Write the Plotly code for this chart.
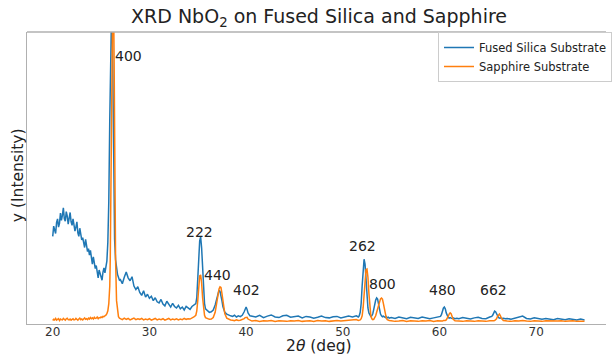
import plotly.graph_objects as go

# 2-theta grid (deg)
two_theta = [
    20.0, 20.1, 20.2, 20.3, 20.4, 20.5, 20.6, 20.7, 20.8, 20.9,
    21.0, 21.1, 21.2, 21.3, 21.4, 21.5, 21.6, 21.7, 21.8, 21.9,
    22.0, 22.1, 22.2, 22.3, 22.4, 22.5, 22.6, 22.7, 22.8, 22.9,
    23.0, 23.1, 23.2, 23.3, 23.4, 23.5, 23.6, 23.7, 23.8, 23.9,
    24.0, 24.1, 24.2, 24.3, 24.4, 24.5, 24.6, 24.7, 24.8, 24.9,
    25.0, 25.1, 25.2, 25.3, 25.4,
    25.5, 25.6, 25.7, 25.8, 25.9, 25.95, 26.0, 26.05, 26.1, 26.15,
    26.2, 26.25, 26.3, 26.35, 26.4, 26.5, 26.6, 26.7, 26.8, 26.9,
    27.0, 27.2, 27.4, 27.6, 27.8, 28.0, 28.2, 28.4, 28.6, 28.8,
    29.0, 29.2, 29.4, 29.6, 29.8, 30.0, 30.2, 30.4, 30.6, 30.8,
    31.0, 31.2, 31.4, 31.6, 31.8, 32.0, 32.2, 32.4, 32.6, 32.8,
    33.0, 33.2, 33.4, 33.6, 33.8, 34.0, 34.2, 34.4, 34.6,
    34.8, 34.9, 35.0, 35.1, 35.2, 35.3, 35.4, 35.5, 35.6, 35.7, 35.8, 36.0, 36.2, 36.4,
    36.6, 36.8, 37.0, 37.1, 37.2, 37.3, 37.4, 37.5, 37.6, 37.8, 38.0, 38.2, 38.4,
    38.6, 38.8, 39.0, 39.2, 39.4, 39.6, 39.8, 39.9, 40.0, 40.1, 40.2, 40.4,
    40.6, 41.0, 41.4, 41.8, 42.2, 42.6, 43.0, 43.4, 43.8, 44.2,
    44.6, 45.0, 45.4, 45.8, 46.2, 46.6, 47.0, 47.4, 47.8, 48.2,
    48.6, 49.0, 49.4, 49.8, 50.2, 50.6, 51.0, 51.4,
    51.6, 51.7, 51.8, 51.9, 52.0, 52.1, 52.2, 52.3, 52.4, 52.5,
    52.6, 52.7, 52.8, 52.9, 53.0, 53.1, 53.2, 53.3, 53.4, 53.5,
    53.6, 53.7, 53.8, 53.9, 54.0, 54.1, 54.2, 54.3, 54.4, 54.5,
    54.6, 54.7, 54.8,
    55.0, 55.4, 55.8, 56.2, 56.6, 57.0, 57.4, 57.8, 58.2, 58.6, 59.0, 59.4, 59.8,
    60.1, 60.2, 60.3, 60.4, 60.5, 60.6, 60.7, 60.8, 60.9, 61.0, 61.1, 61.2, 61.3, 61.4, 61.6, 61.8,
    62.0, 62.4, 62.8, 63.2, 63.6, 64.0, 64.4, 64.8, 65.2,
    65.4, 65.5, 65.6, 65.7, 65.8, 65.9, 66.0, 66.1, 66.2, 66.3, 66.4, 66.6, 66.8,
    67.0, 67.4, 67.8, 68.2, 68.6, 69.0, 69.4, 69.8, 70.2, 70.6,
    71.0, 71.4, 71.8, 72.2, 72.6, 73.0, 73.4, 73.8, 74.2, 74.6, 75.0,
]

# Fused silica substrate intensity (arb. units)
fused_silica = [
    300, 335, 322, 310, 348, 360, 332, 345, 380, 355,
    372, 398, 360, 352, 385, 370, 342, 368, 382, 350,
    338, 360, 345, 318, 332, 350, 312, 300, 328, 305,
    288, 296, 275, 262, 290, 270, 248, 258, 236, 252,
    222, 205, 230, 212, 190, 200, 176, 158, 185, 172,
    165, 150, 178, 192, 175,
    190, 215, 280, 420, 700, 900, 1050, 1100, 1100, 1080,
    950, 750, 520, 380, 290, 220, 185, 170, 160, 150,
    152, 138, 160, 178, 158, 148, 162, 130, 118, 128,
    108, 98, 114, 92, 102, 88, 95, 80, 90, 76,
    72, 84, 68, 62, 78, 66, 58, 71, 60, 55,
    64, 52, 58, 48, 60, 55, 50, 60, 64,
    70, 90, 140, 220, 285, 298, 260, 180, 110, 70, 52, 45, 40, 42,
    48, 65, 95, 110, 116, 112, 100, 80, 60, 40, 34, 30, 28,
    26, 30, 24, 28, 25, 30, 42, 52, 58, 50, 38, 28,
    26, 24, 30, 22, 27, 31, 24, 22, 28, 30,
    23, 25, 27, 21, 26, 24, 20, 23, 27, 22,
    21, 25, 26, 21, 23, 27, 24, 28,
    24, 28, 40, 70, 130, 195, 222, 205, 150, 95,
    55, 38, 30, 26, 28, 35, 50, 68, 82, 89,
    85, 68, 48, 34, 28, 25, 27, 24, 22, 25,
    21, 23, 20,
    22, 19, 24, 21, 18, 23, 22, 19, 24, 20, 18, 21, 24,
    26, 32, 44, 54, 58, 52, 38, 27, 22, 20, 22, 20, 19, 21, 18, 20,
    18, 22, 20, 17, 21, 23, 19, 18, 24,
    26, 30, 38, 44, 42, 34, 26, 22, 20, 21, 19, 20, 18,
    19, 16, 20, 24, 27, 19, 17, 21, 18, 16,
    19, 18, 15, 19, 17, 15, 18, 16, 14, 17, 14,
]

# Sapphire substrate intensity (arb. units)
sapphire = [
    12, 16, 14, 19, 13, 15, 18, 12, 17, 15,
    14, 19, 16, 13, 18, 20, 15, 14, 17, 13,
    16, 18, 14, 15, 19, 16, 13, 17, 20, 15,
    17, 14, 19, 21, 16, 18, 15, 20, 17, 22,
    18, 21, 17, 23, 19, 20, 24, 18, 22, 21,
    24, 22, 26, 25, 28,
    30, 35, 45, 70, 130, 220, 400, 650, 900, 1050,
    1100, 1100, 1080, 900, 600, 220, 80, 40, 25, 20,
    18, 15, 20, 16, 19, 14, 17, 20, 15, 18,
    16, 19, 14, 17, 15, 18, 13, 16, 19, 14,
    17, 15, 18, 13, 16, 19, 14, 17, 15, 18,
    14, 17, 15, 19, 16, 18, 17, 20, 24,
    30, 45, 80, 130, 165, 168, 140, 90, 50, 30, 22, 18, 16, 17,
    22, 40, 80, 105, 120, 127, 125, 105, 75, 35, 20, 16, 14,
    13, 11, 14, 12, 13, 15, 18, 22, 24, 23, 17, 12,
    10, 12, 9, 11, 10, 12, 9, 11, 10, 9,
    11, 10, 12, 9, 10, 11, 9, 12, 10, 11,
    9, 10, 12, 10, 11, 12, 13, 15,
    12, 12, 14, 18, 28, 55, 105, 160, 186, 188,
    160, 105, 55, 28, 18, 15, 16, 20, 28, 40,
    52, 62, 75, 86, 89, 85, 70, 48, 30, 20,
    15, 13, 12,
    11, 9, 10, 12, 9, 11, 10, 9, 11, 10, 12, 9, 11,
    10, 11, 10, 12, 11, 12, 14, 18, 26, 34, 38, 35, 26, 17, 11, 10,
    10, 9, 11, 10, 9, 11, 10, 9, 11,
    10, 11, 11, 12, 14, 18, 26, 32, 34, 28, 20, 12, 10,
    10, 9, 11, 10, 12, 10, 9, 11, 10, 9,
    11, 10, 9, 10, 11, 9, 10, 11, 9, 10, 9,
]

assert len(two_theta) == len(fused_silica) == len(sapphire), (
    len(two_theta), len(fused_silica), len(sapphire))

peak_labels = ["400", "222", "440", "402", "262", "800", "480", "662"]
label_x = [27.83, 35.20, 37.09, 40.01, 52.04, 54.13, 60.33, 65.60]
label_y = [918, 315, 168, 116, 267, 137, 116, 116]
x_ticks = [20, 30, 40, 50, 60, 70]

FONT = "DejaVu Sans"
SPINE = "#b0b0b0"

fig = go.Figure()
fig.add_trace(go.Scatter(x=two_theta, y=fused_silica, mode="lines",
                         name="Fused Silica Substrate",
                         line=dict(color="#1f77b4", width=1.5)))
fig.add_trace(go.Scatter(x=two_theta, y=sapphire, mode="lines",
                         name="Sapphire Substrate",
                         line=dict(color="#ff7f0e", width=1.5)))

annotations = []
for t, lx, ly in zip(peak_labels, label_x, label_y):
    annotations.append(dict(x=lx, y=ly, xref="x", yref="y", text=t,
                            showarrow=False, xanchor="center", yanchor="middle",
                            font=dict(family=FONT, size=14, color="#222")))
annotations.append(dict(x=0.504, y=1.051, xref="paper", yref="paper",
                        text="XRD NbO<sub>2</sub> on Fused Silica and Sapphire",
                        showarrow=False, xanchor="center", yanchor="middle",
                        font=dict(family=FONT, size=19, color="#222")))
annotations.append(dict(x=0.504, y=-0.075, xref="paper", yref="paper",
                        text="2<i>θ</i> (deg)",
                        showarrow=False, xanchor="center", yanchor="middle",
                        font=dict(family=FONT, size=15.5, color="#222")))
annotations.append(dict(x=-0.0154, y=0.51, xref="paper", yref="paper",
                        text="y (Intensity)", textangle=-90,
                        showarrow=False, xanchor="center", yanchor="middle",
                        font=dict(family=FONT, size=15.5, color="#222")))

fig.update_layout(
    width=612, height=356,
    margin=dict(l=27, r=0, t=32, b=32),
    paper_bgcolor="white", plot_bgcolor="white",
    showlegend=True,
    legend=dict(x=0.71, y=1.0, xanchor="left", yanchor="top",
                bgcolor="white", bordercolor="#cccccc", borderwidth=1,
                font=dict(family=FONT, size=11.5, color="#222"),
                tracegroupgap=0, itemwidth=30),
    xaxis=dict(range=[17.34, 77.22], tickvals=x_ticks,
               showline=True, linecolor=SPINE, linewidth=1.3,
               showgrid=False, zeroline=False,
               ticks="", ticklabelstandoff=-4,
               tickfont=dict(family=FONT, size=12, color="#333")),
    yaxis=dict(range=[0, 1000], showticklabels=False,
               showline=True, linecolor=SPINE, linewidth=1.3,
               showgrid=False, zeroline=False, ticks=""),
    shapes=[dict(type="line", xref="paper", yref="paper",
                 x0=0, x1=1, y0=1, y1=1,
                 line=dict(color=SPINE, width=1.3))],
    annotations=annotations,
)

fig.write_html("out.html")
